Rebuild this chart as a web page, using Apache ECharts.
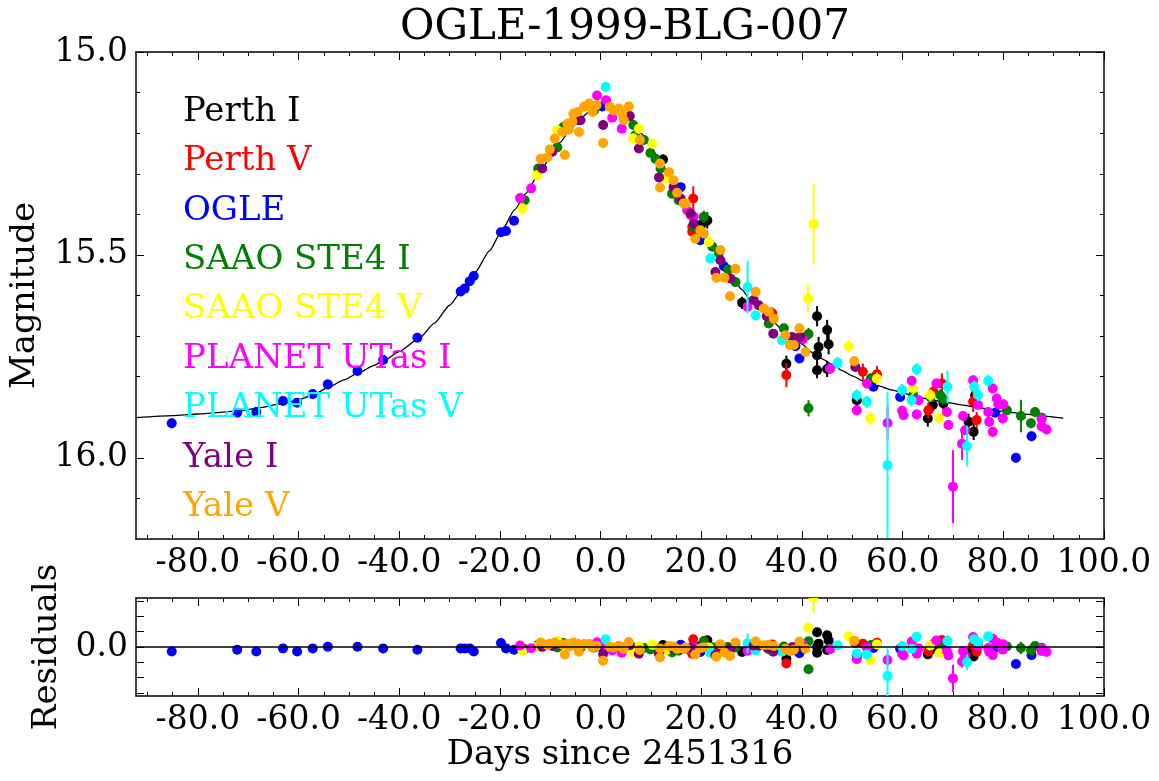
<!DOCTYPE html>
<html>
<head>
<meta charset="utf-8">
<title>OGLE-1999-BLG-007</title>
<script src="https://cdn.jsdelivr.net/npm/echarts@6/dist/echarts.min.js"></script>
<style>
  html, body { margin: 0; padding: 0; background: #fff; }
  #chart { width: 1159px; height: 781px; }
</style>
</head>
<body>
<div id="chart"></div>
<script>
// axis ranges and tick labels
const dayMin = -92.3;
const dayMax = 100;
const dayMajor = [-80, -60, -40, -20, 0, 20, 40, 60, 80, 100];
const dayMinor = [-90, -85, -75, -70, -65, -55, -50, -45, -35, -30, -25, -15, -10, -5,
  5, 10, 15, 25, 30, 35, 45, 50, 55, 65, 70, 75, 85, 90, 95];
const magMajor = [15.0, 15.5, 16.0];
const magMinor = [15.1, 15.2, 15.3, 15.4, 15.6, 15.7, 15.8, 15.9, 16.1];
const resTicks = [-0.3, -0.2, -0.1, 0, 0.1, 0.2, 0.3];
const resLabels = [0];

// fitted model curve [day, mag]
const modelCurve = [
  [-92.3, 15.901], [-85, 15.896], [-80, 15.892], [-72, 15.885], [-68, 15.877], [-63, 15.866],
  [-60, 15.857], [-57, 15.844], [-54, 15.826], [-51, 15.808], [-48, 15.790], [-45, 15.772],
  [-43, 15.760], [-40, 15.738], [-36, 15.705], [-33, 15.668], [-30, 15.624], [-27, 15.578],
  [-25, 15.544], [-22, 15.489], [-20, 15.448], [-17, 15.388], [-15, 15.350], [-12, 15.295],
  [-10, 15.260], [-8, 15.222], [-6, 15.190], [-4, 15.163], [-2, 15.145], [0, 15.135],
  [2, 15.138], [4, 15.150], [6, 15.170], [8, 15.200], [10, 15.235], [12, 15.272],
  [14, 15.312], [16, 15.350], [18, 15.395], [20, 15.435], [22, 15.475], [24, 15.512],
  [26, 15.550], [28, 15.585], [30, 15.615], [32, 15.640], [34, 15.662], [36, 15.683],
  [38, 15.702], [40, 15.720], [42, 15.740], [44, 15.756], [46, 15.770], [48, 15.785],
  [50, 15.798], [52, 15.810], [55, 15.822], [58, 15.833], [60, 15.840], [62, 15.847],
  [65, 15.855], [68, 15.862], [70, 15.866], [72, 15.870], [75, 15.876], [78, 15.883],
  [80, 15.886], [83, 15.890], [85, 15.893], [88, 15.897], [91.9, 15.902]
];

// observations: [day, magnitude, error, residual]
const perthI = [
  [12.4, 15.265, 0.012, 0.013], [20.0, 15.425, 0.015, 0.010], [21.2, 15.415, 0.020, 0.044],
  [28.1, 15.618, 0.015, -0.032], [36.9, 15.768, 0.020, -0.078], [43.0, 15.651, 0.025, 0.096],
  [43.0, 15.747, 0.025, 0.000], [43.3, 15.727, 0.025, 0.022], [43.0, 15.784, 0.020, -0.037],
  [45.0, 15.685, 0.025, 0.077], [45.3, 15.720, 0.025, 0.043], [45.0, 15.781, 0.020, -0.019],
  [50.9, 15.858, 0.020, -0.054], [65.0, 15.903, 0.020, -0.048], [66.0, 15.870, 0.015, -0.013],
  [68.1, 15.866, 0.015, -0.004], [73.1, 15.911, 0.020, -0.039], [74.1, 15.936, 0.020, -0.062],
  [74.4, 15.846, 0.020, 0.029]
];
const perthV = [
  [18.2, 15.431, 0.015, -0.032], [18.2, 15.443, 0.015, -0.044], [18.4, 15.361, 0.030, 0.050],
  [34.1, 15.644, 0.015, 0.017], [36.9, 15.796, 0.030, -0.107], [52.1, 15.788, 0.020, 0.022],
  [54.9, 15.794, 0.020, 0.028], [65.1, 15.883, 0.020, -0.028], [66.1, 15.837, 0.025, 0.020],
  [67.8, 15.817, 0.025, 0.045], [74.0, 15.862, 0.025, 0.012], [74.7, 15.907, 0.020, -0.031]
];
const ogle = [
  [-85.2, 15.915, 0.012, -0.029], [-72.2, 15.889, 0.010, -0.018], [-68.4, 15.887, 0.012, -0.029],
  [-63.1, 15.860, 0.010, -0.009], [-60.3, 15.864, 0.010, -0.029], [-57.2, 15.843, 0.010, -0.009],
  [-54.2, 15.819, 0.012, 0.002], [-48.3, 15.786, 0.008, 0.002], [-43.2, 15.759, 0.008, -0.009],
  [-36.4, 15.704, 0.008, -0.018], [-27.8, 15.590, 0.008, -0.009], [-27.0, 15.583, 0.008, -0.009],
  [-26.0, 15.565, 0.008, -0.009], [-25.2, 15.552, 0.008, -0.029], [-19.8, 15.444, 0.008, 0.026],
  [-18.8, 15.441, 0.008, -0.009], [-17.2, 15.416, 0.008, -0.018], [0.3, 15.134, 0.008, 0.001],
  [15.9, 15.333, 0.008, 0.015], [19.8, 15.464, 0.008, -0.033], [24.5, 15.528, 0.008, -0.008],
  [38.7, 15.725, 0.008, -0.018], [39.5, 15.755, 0.010, -0.040], [54.2, 15.825, 0.010, -0.006],
  [59.5, 15.850, 0.010, -0.012], [78.4, 15.889, 0.010, -0.005], [82.5, 16.000, 0.012, -0.111],
  [85.6, 15.947, 0.012, -0.053]
];
const saaoI = [
  [-15.1, 15.365, 0.010, -0.013], [-12.4, 15.287, 0.010, 0.015], [-8.6, 15.235, 0.010, -0.003],
  [-7.4, 15.185, 0.010, 0.026], [-1.3, 15.144, 0.010, -0.004], [6.5, 15.180, 0.010, -0.003],
  [6.9, 15.205, 0.010, -0.022], [8.6, 15.217, 0.010, -0.007], [9.9, 15.249, 0.010, -0.016],
  [10.9, 15.263, 0.010, -0.013], [11.9, 15.287, 0.010, -0.019], [14.2, 15.349, 0.010, -0.035],
  [15.5, 15.365, 0.010, -0.025], [18.5, 15.431, 0.010, -0.026], [20.5, 15.406, 0.015, 0.039],
  [22.2, 15.480, 0.010, -0.001], [23.5, 15.495, 0.010, 0.005], [25.3, 15.536, 0.010, 0.000],
  [26.8, 15.567, 0.010, -0.003], [33.4, 15.669, 0.010, -0.015], [36.4, 15.681, 0.010, 0.003],
  [41.3, 15.695, 0.015, 0.038], [41.3, 15.878, 0.020, -0.145], [45.6, 15.780, 0.012, -0.013],
  [53.7, 15.804, 0.012, 0.013], [62.1, 15.845, 0.012, 0.003], [65.5, 15.850, 0.012, 0.006],
  [67.5, 15.846, 0.015, 0.015], [68.1, 15.855, 0.012, 0.007], [80.7, 15.883, 0.012, 0.004],
  [83.5, 15.897, 0.040, -0.006], [85.5, 15.915, 0.012, -0.022], [86.3, 15.887, 0.012, 0.007],
  [87.6, 15.901, 0.012, -0.005]
];
const saaoV = [
  [-15.5, 15.386, 0.015, -0.026], [-12.6, 15.304, 0.012, 0.002], [-8.6, 15.193, 0.012, 0.039],
  [6.5, 15.213, 0.012, -0.036], [7.6, 15.189, 0.012, 0.005], [10.3, 15.226, 0.012, 0.014],
  [13.1, 15.312, 0.012, -0.020], [21.5, 15.468, 0.012, -0.003], [41.2, 15.607, 0.035, 0.125],
  [42.3, 15.423, 0.100, 0.319], [49.3, 15.725, 0.015, 0.070], [53.6, 15.903, 0.015, -0.086],
  [54.9, 15.805, 0.015, 0.017], [62.1, 15.829, 0.015, 0.019], [65.5, 15.846, 0.015, 0.010],
  [67.3, 15.901, 0.015, -0.041]
];
const utasI = [
  [-16.0, 15.360, 0.010, 0.010], [-13.8, 15.336, 0.010, -0.008], [-0.7, 15.107, 0.010, 0.031],
  [1.1, 15.119, 0.010, 0.017], [2.3, 15.162, 0.010, -0.023], [4.2, 15.189, 0.010, -0.038],
  [17.2, 15.390, 0.010, -0.013], [17.9, 15.402, 0.010, -0.009], [18.5, 15.406, 0.010, 0.000],
  [29.2, 15.628, 0.010, -0.025], [40.2, 15.708, 0.010, 0.014], [45.6, 15.780, 0.012, -0.013],
  [50.9, 15.883, 0.012, -0.079], [52.9, 15.817, 0.012, -0.004], [57.0, 15.914, 0.040, -0.085],
  [59.9, 15.884, 0.012, -0.044], [60.2, 15.895, 0.012, -0.055], [61.8, 15.810, 0.012, 0.036],
  [62.8, 15.893, 0.012, -0.044], [63.2, 15.858, 0.012, -0.009], [66.7, 15.817, 0.012, 0.042],
  [68.8, 15.887, 0.012, -0.024], [69.1, 15.919, 0.012, -0.056], [70.0, 16.071, 0.090, -0.205],
  [71.8, 15.965, 0.040, -0.095], [72.0, 15.897, 0.012, -0.027], [72.4, 15.932, 0.012, -0.061],
  [74.0, 15.809, 0.012, 0.065], [75.0, 15.870, 0.012, 0.006], [77.0, 15.887, 0.012, -0.006],
  [77.2, 15.911, 0.012, -0.030], [77.9, 15.829, 0.012, 0.054], [77.9, 15.936, 0.012, -0.053],
  [78.7, 15.854, 0.012, 0.030], [79.0, 15.868, 0.012, 0.017], [79.9, 15.903, 0.012, -0.017],
  [80.0, 15.868, 0.012, 0.018], [87.6, 15.905, 0.012, -0.009], [87.6, 15.922, 0.012, -0.026],
  [88.6, 15.930, 0.012, -0.033]
];
const utasV = [
  [1.0, 15.086, 0.012, 0.050], [21.8, 15.509, 0.012, -0.038], [29.2, 15.579, 0.065, 0.024],
  [30.8, 15.649, 0.012, -0.022], [36.0, 15.710, 0.012, -0.030], [47.1, 15.766, 0.015, 0.011],
  [50.9, 15.846, 0.015, -0.042], [52.9, 15.862, 0.015, -0.049], [57.0, 16.018, 0.180, -0.189],
  [59.9, 15.833, 0.015, 0.007], [61.8, 15.858, 0.015, -0.012], [62.8, 15.782, 0.015, 0.067],
  [68.9, 15.825, 0.040, 0.039], [72.8, 15.971, 0.050, -0.100], [74.2, 15.825, 0.015, 0.050],
  [75.0, 15.845, 0.015, 0.031], [77.0, 15.810, 0.015, 0.071]
];
const yaleI = [
  [-11.6, 15.287, 0.010, 0.001], [-9.6, 15.246, 0.010, 0.007], [-4.6, 15.168, 0.010, 0.002],
  [-4.0, 15.168, 0.010, -0.005], [0.5, 15.180, 0.010, -0.045], [5.8, 15.158, 0.010, 0.012],
  [7.6, 15.238, 0.010, -0.044], [11.6, 15.309, 0.010, -0.046], [14.5, 15.333, 0.010, -0.013],
  [15.9, 15.361, 0.010, -0.013], [17.9, 15.398, 0.010, -0.005], [18.5, 15.423, 0.010, -0.018],
  [19.8, 15.440, 0.010, -0.009], [22.8, 15.542, 0.010, -0.053], [23.8, 15.513, 0.010, -0.007],
  [25.8, 15.558, 0.010, -0.012], [30.4, 15.611, 0.010, 0.009], [31.4, 15.624, 0.010, 0.009],
  [33.0, 15.651, 0.010, -0.001], [34.3, 15.694, 0.010, -0.031], [38.0, 15.702, 0.010, -0.002],
  [38.4, 15.706, 0.010, -0.002], [39.7, 15.702, 0.010, 0.015], [50.6, 15.776, 0.012, 0.026]
];
const yaleV = [
  [-11.9, 15.263, 0.010, 0.030], [-10.6, 15.260, 0.010, 0.011], [-10.1, 15.240, 0.010, 0.022],
  [-9.1, 15.213, 0.010, 0.029], [-7.6, 15.197, 0.010, 0.017], [-7.1, 15.254, 0.012, -0.049],
  [-6.6, 15.176, 0.010, 0.021], [-6.3, 15.191, 0.010, 0.002], [-5.6, 15.172, 0.010, 0.012],
  [-5.4, 15.152, 0.010, 0.029], [-4.6, 15.148, 0.010, 0.022], [-4.3, 15.197, 0.010, -0.031],
  [-3.3, 15.135, 0.010, 0.020], [-2.3, 15.127, 0.010, 0.020], [-1.6, 15.148, 0.010, -0.005],
  [-0.8, 15.131, 0.010, 0.008], [0.5, 15.224, 0.012, -0.089], [1.8, 15.135, 0.010, 0.002],
  [2.6, 15.144, 0.010, -0.003], [3.6, 15.139, 0.010, 0.008], [4.3, 15.152, 0.010, 0.000],
  [4.6, 15.168, 0.010, -0.013], [5.6, 15.134, 0.010, 0.033], [7.8, 15.217, 0.010, -0.020],
  [11.8, 15.275, 0.010, -0.009], [11.8, 15.334, 0.012, -0.068], [13.6, 15.296, 0.010, 0.006],
  [14.5, 15.316, 0.010, 0.004], [15.2, 15.347, 0.010, -0.013], [16.5, 15.373, 0.010, -0.012],
  [16.9, 15.373, 0.010, -0.003], [18.8, 15.460, 0.010, -0.049], [19.8, 15.439, 0.010, -0.008],
  [20.5, 15.447, 0.010, -0.002], [23.0, 15.556, 0.010, -0.064], [23.8, 15.488, 0.010, 0.018],
  [24.6, 15.556, 0.010, -0.036], [25.7, 15.602, 0.012, -0.058], [26.8, 15.534, 0.010, 0.030],
  [30.8, 15.591, 0.010, 0.036], [32.4, 15.632, 0.010, 0.012], [33.4, 15.640, 0.010, 0.014],
  [34.4, 15.657, 0.010, 0.007], [36.7, 15.698, 0.010, -0.011], [37.6, 15.722, 0.010, -0.026],
  [38.4, 15.722, 0.010, -0.018], [39.5, 15.681, 0.010, 0.034], [40.7, 15.739, 0.010, -0.012],
  [50.4, 15.762, 0.012, 0.040]
];

const datasets = [
  { name: 'Perth I', color: '#000000', data: perthI },
  { name: 'Perth V', color: '#ff0000', data: perthV },
  { name: 'OGLE', color: '#0000ff', data: ogle },
  { name: 'SAAO STE4 I', color: '#008000', data: saaoI },
  { name: 'SAAO STE4 V', color: '#ffff00', data: saaoV },
  { name: 'PLANET UTas I', color: '#ff00ff', data: utasI },
  { name: 'PLANET UTas V', color: '#00ffff', data: utasV },
  { name: 'Yale I', color: '#800080', data: yaleI },
  { name: 'Yale V', color: '#ffa500', data: yaleV }
];

const FONT = 'DejaVu Serif';

// point with vertical error bar; yDim = 1 for magnitude, 3 for residual
function pointWithError(yDim) {
  return function (params, api) {
    const x = api.value(0);
    const y = api.value(yDim);
    const e = api.value(2);
    const p = api.coord([x, y]);
    const a = api.coord([x, y - e]);
    const b = api.coord([x, y + e]);
    const color = api.visual('color');
    return {
      type: 'group',
      children: [
        { type: 'line', shape: { x1: a[0], y1: a[1], x2: b[0], y2: b[1] }, style: { stroke: color, lineWidth: 2 } },
        { type: 'circle', shape: { cx: p[0], cy: p[1], r: 5 }, style: { fill: color } }
      ]
    };
  };
}

const boxLine = { show: true, onZero: false, lineStyle: { color: '#000', width: 1.5 } };
const noLine = { show: false, onZero: false };

// x axes: major + minor ticks, bottom and top, for one grid
function dayAxes(gridIndex) {
  const base = { type: 'value', gridIndex: gridIndex, min: dayMin, max: dayMax, splitLine: { show: false } };
  return [
    Object.assign({}, base, {
      position: 'bottom', axisLine: boxLine,
      axisTick: { show: true, inside: true, length: 8, customValues: dayMajor, lineStyle: { color: '#000' } },
      axisLabel: {
        customValues: dayMajor, margin: 8, color: '#000', fontSize: 33, fontFamily: FONT,
        formatter: v => v.toFixed(1)
      }
    }),
    Object.assign({}, base, {
      position: 'bottom', axisLine: noLine,
      axisTick: { show: true, inside: true, length: 4, customValues: dayMinor, lineStyle: { color: '#000' } },
      axisLabel: { show: false }
    }),
    Object.assign({}, base, {
      position: 'top', axisLine: boxLine,
      axisTick: { show: true, inside: true, length: 8, customValues: dayMajor, lineStyle: { color: '#000' } },
      axisLabel: { show: false }
    }),
    Object.assign({}, base, {
      position: 'top', axisLine: noLine,
      axisTick: { show: true, inside: true, length: 4, customValues: dayMinor, lineStyle: { color: '#000' } },
      axisLabel: { show: false }
    })
  ];
}

function valueAxes(gridIndex, opts) {
  const base = { type: 'value', gridIndex: gridIndex, min: opts.min, max: opts.max, inverse: opts.inverse, splitLine: { show: false } };
  const axes = [
    Object.assign({}, base, {
      position: 'left', axisLine: boxLine,
      name: opts.name, nameLocation: 'middle', nameGap: opts.nameGap,
      nameTextStyle: { color: '#000', fontSize: 34, fontFamily: FONT },
      axisTick: { show: true, inside: true, length: 8, customValues: opts.major, lineStyle: { color: '#000' } },
      axisLabel: {
        customValues: opts.labels, margin: 8, color: '#000', fontSize: 33, fontFamily: FONT,
        formatter: v => v.toFixed(1)
      }
    }),
    Object.assign({}, base, {
      position: 'right', axisLine: boxLine,
      axisTick: { show: true, inside: true, length: 8, customValues: opts.major, lineStyle: { color: '#000' } },
      axisLabel: { show: false }
    })
  ];
  if (opts.minor) {
    axes.push(Object.assign({}, base, {
      position: 'left', axisLine: noLine,
      axisTick: { show: true, inside: true, length: 4, customValues: opts.minor, lineStyle: { color: '#000' } },
      axisLabel: { show: false }
    }));
    axes.push(Object.assign({}, base, {
      position: 'right', axisLine: noLine,
      axisTick: { show: true, inside: true, length: 4, customValues: opts.minor, lineStyle: { color: '#000' } },
      axisLabel: { show: false }
    }));
  }
  return axes;
}

const xAxes = dayAxes(0).concat(dayAxes(1));
xAxes[4].name = 'Days since 2451316';
xAxes[4].nameLocation = 'middle';
xAxes[4].nameGap = 40;
xAxes[4].nameTextStyle = { color: '#000', fontSize: 34, fontFamily: FONT };

const yTop = valueAxes(0, { min: 15.0, max: 16.2, inverse: true, major: magMajor, labels: magMajor, minor: magMinor, name: 'Magnitude', nameGap: 94 });
const yRes = valueAxes(1, { min: -0.32, max: 0.32, inverse: false, major: resTicks, labels: resLabels, name: 'Residuals', nameGap: 69 });
const yAxes = yTop.concat(yRes);
const resYIndex = yTop.length;

const series = [
  {
    name: 'model', type: 'line', xAxisIndex: 0, yAxisIndex: 0, data: modelCurve,
    showSymbol: false, smooth: 0.2, smoothMonotone: 'x', z: 1, silent: true,
    lineStyle: { color: '#000', width: 1.3 }
  },
  {
    name: 'zero', type: 'line', xAxisIndex: 4, yAxisIndex: resYIndex, data: [], z: 1,
    markLine: {
      silent: true, symbol: 'none', label: { show: false },
      lineStyle: { color: '#000', type: 'solid', width: 1.5 },
      data: [{ yAxis: 0 }]
    }
  }
];
datasets.forEach(d => {
  series.push({
    name: d.name, type: 'custom', xAxisIndex: 0, yAxisIndex: 0, data: d.data, clip: true, z: 2,
    encode: { x: 0, y: 1 }, itemStyle: { color: d.color }, renderItem: pointWithError(1)
  });
  series.push({
    name: d.name, type: 'custom', xAxisIndex: 4, yAxisIndex: resYIndex, data: d.data, clip: true, z: 2,
    encode: { x: 0, y: 3 }, itemStyle: { color: d.color }, renderItem: pointWithError(3)
  });
});

const chart = echarts.init(document.getElementById('chart'));
chart.setOption({
  animation: false,
  backgroundColor: '#fff',
  title: {
    text: 'OGLE-1999-BLG-007', left: 620, top: 2, textAlign: 'center',
    textStyle: { color: '#000', fontSize: 42, fontWeight: 'normal', fontFamily: FONT }
  },
  legend: {
    orient: 'vertical', left: 173, top: 87, itemGap: 9.4, itemWidth: 0, itemHeight: 10,
    icon: 'none', selectedMode: true,
    textStyle: { fontSize: 34, fontFamily: FONT, lineHeight: 40 },
    data: datasets.map(d => ({ name: d.name, textStyle: { color: d.color } }))
  },
  grid: [
    { left: 136, top: 52, width: 968, height: 487 },
    { left: 136, top: 598, width: 968, height: 98 }
  ],
  xAxis: xAxes,
  yAxis: yAxes,
  series: series
});
</script>
</body>
</html>
